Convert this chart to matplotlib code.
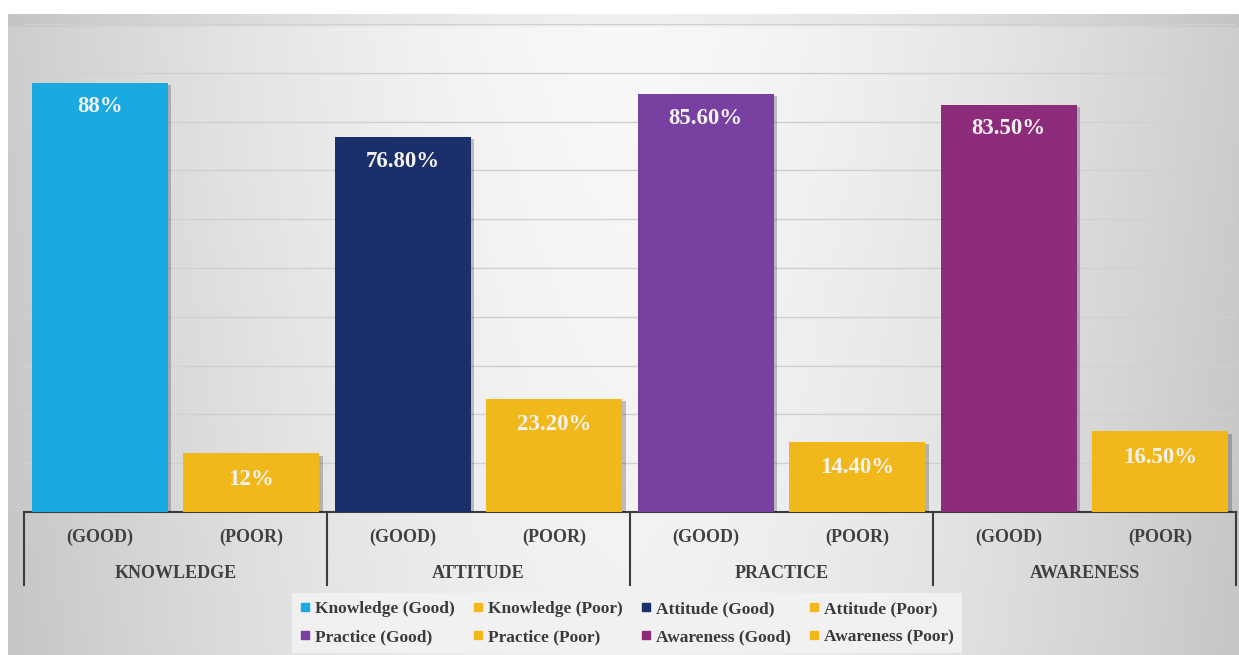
import numpy as np
import matplotlib
matplotlib.use("Agg")
import matplotlib.pyplot as plt
import matplotlib.patheffects as pe
from matplotlib.lines import Line2D

# ---- data ----
groups = ["KNOWLEDGE", "ATTITUDE", "PRACTICE", "AWARENESS"]
levels = ["(GOOD)", "(POOR)"]
good_values = [88.0, 76.8, 85.6, 83.5]
poor_values = [12.0, 23.2, 14.4, 16.5]
good_labels = ["88%", "76.80%", "85.60%", "83.50%"]
poor_labels = ["12%", "23.20%", "14.40%", "16.50%"]
series_names = ["Knowledge (Good)", "Knowledge (Poor)", "Attitude (Good)", "Attitude (Poor)",
                "Practice (Good)", "Practice (Poor)", "Awareness (Good)", "Awareness (Poor)"]

good_colors = ["#1aa9e0", "#1b2f6a", "#7840a0", "#8e2c7c"]
poor_color = "#f0b81a"

W, H = 1239, 655
fig = plt.figure(figsize=(W / 100, H / 100), dpi=100)
fig.patch.set_facecolor("white")

# ---- soft gray gradient backdrop ----
bg = fig.add_axes([8 / W, 0, 1 - 8 / W, 1 - 14 / H])
bg.set_axis_off()
xs = np.linspace(-1, 1, 600)
ys = np.linspace(0, 1, 300)
X, Y = np.meshgrid(xs, ys)
val = 0.975 - 0.17 * np.abs(X) ** 1.6 - 0.03 * Y
val[:6, :] -= 0.035  # darker band along the top edge
img = np.dstack([val, val, val])
bg.imshow(img, aspect="auto", extent=[0, 1, 0, 1], origin="upper", interpolation="bilinear")
bg.set_xlim(0, 1)
bg.set_ylim(0, 1)

# ---- main plot ----
left, right = 24, 1236
top, bottom = 24, 512
ax = fig.add_axes([left / W, 1 - bottom / H, (right - left) / W, (bottom - top) / H])
ax.set_facecolor("none")
ax.set_xlim(0, 8)
ax.set_ylim(0, 100)

for g in range(10, 101, 10):
    ax.axhline(g, color="#d0d0d0", lw=1.0, zorder=1)

shadow = [pe.SimplePatchShadow(offset=(2.5, -1.5), shadow_rgbFace="black", alpha=0.22), pe.Normal()]
label_font = dict(family="Liberation Serif", fontsize=16.5, fontweight="bold", color="#f4f2ee")

for i in range(len(groups)):
    xg = 2 * i + 0.5
    xp = 2 * i + 1.5
    bg_bar = ax.bar(xg, good_values[i], width=0.9, color=good_colors[i], zorder=3)
    bp_bar = ax.bar(xp, poor_values[i], width=0.9, color=poor_color, zorder=3)
    for b in list(bg_bar) + list(bp_bar):
        b.set_path_effects(shadow)
    ax.annotate(good_labels[i], (xg, good_values[i]), xytext=(0, -24), textcoords="offset pixels",
                ha="center", va="center", zorder=4, **label_font)
    ax.annotate(poor_labels[i], (xp, poor_values[i]), xytext=(0, -26), textcoords="offset pixels",
                ha="center", va="center", zorder=4, **label_font)

# ---- axis and grouped category labels ----
for s in ["top", "right", "left"]:
    ax.spines[s].set_visible(False)
ax.spines["bottom"].set_color("#3c3c3c")
ax.spines["bottom"].set_linewidth(1.5)
ax.set_yticks([])
ax.set_xticks([])

trans = ax.get_xaxis_transform()
px = 1.0 / (bottom - top)
sep_bottom = -(585 - bottom) * px
for k in range(0, 9, 2):
    ax.plot([k, k], [0, sep_bottom], transform=trans, color="#3c3c3c", lw=1.5,
            clip_on=False, zorder=5)

tick_font = dict(family="Liberation Serif", fontsize=13, fontweight="bold", color="#404040")
for i in range(len(groups)):
    for j, lv in enumerate(levels):
        ax.text(2 * i + j + 0.5, -(537 - bottom) * px, lv, transform=trans,
                ha="center", va="center", **tick_font)
    ax.text(2 * i + 1, -(573 - bottom) * px, groups[i], transform=trans,
            ha="center", va="center", **tick_font)

# ---- legend ----
series_colors = []
for i in range(len(groups)):
    series_colors += [good_colors[i], poor_color]
handles = [Line2D([], [], marker="s", linestyle="none", markersize=6,
                  markerfacecolor=c, markeredgecolor=c) for c in series_colors]
order = [0, 4, 1, 5, 2, 6, 3, 7]
leg_x0, leg_x1, leg_top = 292, 962, 593
leg = fig.legend([handles[k] for k in order], [series_names[k] for k in order],
                 loc="upper left",
                 bbox_to_anchor=(leg_x0 / W, 1 - leg_top / H, (leg_x1 - leg_x0) / W, 0.0),
                 mode="expand", ncol=4, frameon=True, fancybox=False,
                 handlelength=0.6, handletextpad=0.3, columnspacing=0.6,
                 labelspacing=0.7, borderpad=0.45, borderaxespad=0.0,
                 prop=dict(family="Liberation Serif", size=12.5, weight="bold"))
leg.get_frame().set_facecolor("#f2f2f2")
leg.get_frame().set_edgecolor("none")
leg.get_frame().set_alpha(0.92)
for t in leg.get_texts():
    t.set_color("#3a3a3a")

fig.savefig("out.png", dpi=100)
